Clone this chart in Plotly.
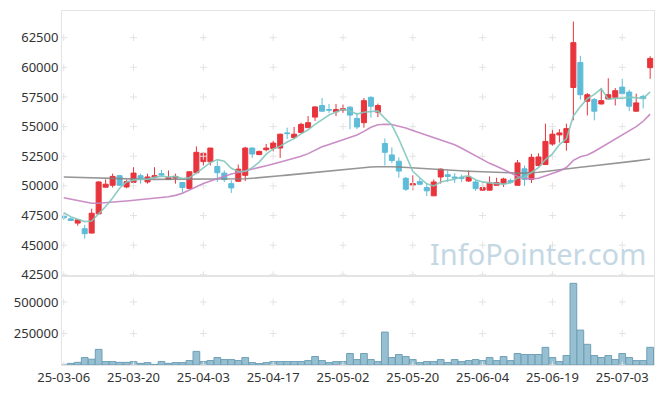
import pandas as pd
import plotly.graph_objects as go

# ---------------- data ----------------
holidays = ["2025-05-01", "2025-05-05", "2025-05-06", "2025-06-03", "2025-06-06"]
trade_days = [d for d in pd.bdate_range("2025-03-06", "2025-07-09")
              if d.strftime("%Y-%m-%d") not in holidays]
dates = [d.strftime("%y-%m-%d") for d in trade_days]

opens = [47470, 47220, 46860, 46390, 46020, 47640, 49890, 50050, 50860, 49910,
         50300, 50860, 50330, 50720, 51030, 50550, 50660, 50280, 49780, 51110,
         52050, 52030, 51640, 51080, 50190, 50390, 50890, 53190, 52640, 53050,
         53160, 53190, 54470, 54080, 54500, 54910, 55800, 56780, 56440, 56250,
         56390, 56640, 55690, 55330, 57470, 56220, 53580, 52610, 52080, 50640,
         50050, 50360, 49860, 49160, 50750, 50940, 50750, 50690, 50410, 50330,
         49640, 49640, 50050, 50190, 50440, 50050, 51440, 50550, 51720, 51800,
         53530, 54300, 53660, 58300, 60410, 57140, 57280, 56910, 57330, 57470,
         58330, 57910, 56300, 57550, 59970]
highs = [47640, 47360, 47150, 46720, 48080, 50410, 50550, 51030, 50910, 50530,
         51580, 51030, 51030, 51580, 51360, 51300, 51030, 50330, 51250, 53330,
         52800, 53200, 52140, 51300, 50470, 51800, 53300, 53250, 52970, 53530,
         53800, 54410, 54910, 54970, 55330, 55890, 56720, 57410, 56910, 56910,
         56860, 56720, 56160, 57410, 57550, 56940, 54000, 53250, 52410, 50750,
         50890, 50690, 50250, 50550, 51470, 51300, 51080, 50940, 51300, 50520,
         50330, 50800, 50690, 50690, 50610, 52190, 51720, 52690, 52750, 55250,
         54830, 54780, 55250, 63860, 60970, 57830, 57410, 58250, 59080, 58250,
         59030, 58110, 57780, 57690, 60940]
lows = [47140, 47030, 46640, 45550, 46000, 47600, 49850, 49860, 50000, 49800,
        50250, 50190, 50190, 50610, 50750, 50530, 50190, 49410, 49750, 51100,
        51720, 51720, 50330, 50330, 49410, 50330, 50410, 52360, 52600, 52910,
        52910, 52360, 53940, 53940, 54440, 54900, 55470, 56250, 56160, 55890,
        56160, 54780, 54780, 54910, 55750, 55800, 51720, 51910, 50690, 49580,
        49640, 50050, 49140, 49150, 50190, 50330, 50250, 50330, 50330, 49580,
        49580, 49620, 50040, 49910, 50250, 50040, 50000, 50250, 51640, 51780,
        53390, 53660, 52970, 55530, 57280, 55940, 55530, 56860, 57280, 56780,
        57690, 56300, 56250, 56530, 59030]
closes = [47300, 47080, 47140, 45970, 47690, 50330, 50140, 50800, 50050, 50360,
          51080, 50530, 50750, 50860, 50910, 50690, 50800, 49860, 51190, 52830,
          52750, 53190, 51110, 50530, 49830, 51410, 53190, 52690, 52910, 53190,
          53610, 54360, 54410, 54360, 55190, 55330, 56660, 56300, 56390, 56440,
          56500, 55970, 54970, 57190, 56720, 56780, 52830, 52140, 51250, 49720,
          50190, 50140, 49580, 50330, 51410, 50800, 50660, 50640, 50750, 49770,
          49860, 50250, 50280, 50580, 50300, 51940, 50550, 52410, 52440, 53750,
          54360, 54470, 54830, 62080, 57690, 57690, 56300, 57190, 57690, 58030,
          57780, 56720, 57000, 57360, 60750]
volumes = [5000, 13000, 21000, 59000, 46000, 124000, 27000, 27000, 21000, 21000,
           27000, 13000, 19000, 5000, 27000, 13000, 19000, 19000, 35000, 108000,
           27000, 35000, 59000, 43000, 43000, 35000, 59000, 19000, 11000, 19000,
           27000, 27000, 27000, 27000, 27000, 35000, 67000, 35000, 19000, 27000,
           27000, 91000, 43000, 91000, 43000, 27000, 261000, 59000, 83000, 67000,
           43000, 19000, 27000, 27000, 43000, 19000, 43000, 27000, 35000, 43000,
           35000, 59000, 35000, 67000, 35000, 91000, 83000, 83000, 83000, 140000,
           59000, 27000, 75000, 648000, 277000, 164000, 75000, 59000, 75000, 43000,
           91000, 59000, 35000, 35000, 140000]
# closes of the four sessions before the window (needed for the 5-day average)
prev_closes = [48700, 48200, 47000, 47450]
# 20- and 60-day averages (history precedes the window)
ma20 = [49000, 48880, 48760, 48640, 48540, 48530, 48560, 48600, 48680, 48730,
        48780, 48830, 48880, 48940, 49000, 49080, 49200, 49380, 49650, 49950,
        50200, 50420, 50620, 50820, 51000, 51130, 51260, 51400, 51550, 51700,
        51850, 52000, 52170, 52330, 52500, 52720, 53000, 53300, 53500, 53700,
        53850, 54050, 54300, 54600, 54950, 55150, 55200, 55180, 55050, 54880,
        54680, 54480, 54300, 54120, 53930, 53720, 53470, 53180, 52850, 52500,
        52200, 51900, 51650, 51380, 51100, 50820, 50620, 50580, 50650, 50850,
        51050, 51250, 51550, 52150, 52450, 52600, 52900, 53250, 53550, 53900,
        54300, 54600, 55000, 55450, 56050]
ma60 = [50750, 50730, 50710, 50690, 50665, 50645, 50625, 50605, 50585, 50570,
        50560, 50555, 50550, 50550, 50550, 50550, 50550, 50550, 50550, 50550,
        50550, 50550, 50550, 50550, 50550, 50570, 50600, 50640, 50680, 50730,
        50790, 50850, 50910, 50970, 51030, 51090, 51150, 51210, 51270, 51330,
        51390, 51450, 51500, 51550, 51590, 51620, 51636, 51620, 51590, 51550,
        51510, 51470, 51440, 51410, 51380, 51350, 51320, 51280, 51240, 51210,
        51180, 51160, 51140, 51120, 51100, 51080, 51080, 51100, 51150, 51220,
        51300, 51370, 51440, 51500, 51570, 51630, 51690, 51750, 51810, 51880,
        51950, 52030, 52110, 52190, 52270]

price_ticks = [42500, 45000, 47500, 50000, 52500, 55000, 57500, 60000, 62500]
volume_ticks = [250000, 500000]
date_ticks = dates[::10]

ma5 = pd.Series(prev_closes + closes).rolling(5).mean().tolist()[len(prev_closes):]

# ---------------- styling ----------------
RED = "#e8343c"
BLUE = "#5dbcd8"
GRID = "#e3e3e3"
FRAME = "#e4e4e4"
FONT = "Noto Sans"

fig = go.Figure()

# grid marks drawn as small crosses at tick intersections
cross = dict(symbol="cross-thin", size=5, line=dict(color=GRID, width=1))
gx_main = [x for x in date_ticks for _ in price_ticks]
gy_main = [y for _ in date_ticks for y in price_ticks]
fig.add_trace(go.Scatter(x=gx_main, y=gy_main, mode="markers", xaxis="x", yaxis="y",
                         marker=cross, hoverinfo="skip", showlegend=False))
vol_grid = [0] + volume_ticks
fig.add_trace(go.Scatter(x=[x for x in date_ticks for _ in vol_grid],
                         y=[y for _ in date_ticks for y in vol_grid],
                         mode="markers", xaxis="x2", yaxis="y2",
                         marker=cross, hoverinfo="skip", showlegend=False))

fig.add_trace(go.Candlestick(
    x=dates, open=opens, high=highs, low=lows, close=closes,
    increasing=dict(line=dict(color=RED, width=1), fillcolor=RED),
    decreasing=dict(line=dict(color=BLUE, width=1), fillcolor=BLUE),
    whiskerwidth=0, xaxis="x", yaxis="y", showlegend=False, hoverinfo="skip"))

fig.add_trace(go.Scatter(x=dates, y=ma60, mode="lines", xaxis="x", yaxis="y",
                         line=dict(color="rgba(130,130,130,0.85)", width=1.6),
                         showlegend=False, hoverinfo="skip"))
fig.add_trace(go.Scatter(x=dates, y=ma20, mode="lines", xaxis="x", yaxis="y",
                         line=dict(color="rgba(196,130,192,0.9)", width=1.6),
                         showlegend=False, hoverinfo="skip"))
fig.add_trace(go.Scatter(x=dates, y=ma5, mode="lines", xaxis="x", yaxis="y",
                         line=dict(color="rgba(130,200,190,0.9)", width=1.6),
                         showlegend=False, hoverinfo="skip"))

fig.add_trace(go.Bar(x=dates, y=volumes, xaxis="x2", yaxis="y2",
                     marker=dict(color="#96c0d2", line=dict(color="#6f9fb6", width=1)),
                     showlegend=False, hoverinfo="skip"))

split = 90 / 357
axis_common = dict(showline=True, linecolor=FRAME, linewidth=1, mirror=True,
                   showgrid=False, zeroline=False, ticks="",
                   tickfont=dict(family=FONT, size=13, color="#333333"))

fig.update_layout(
    width=665, height=396,
    margin=dict(l=62, r=10, t=10, b=29),
    paper_bgcolor="white", plot_bgcolor="white",
    font=dict(family=FONT, size=13, color="#333333"),
    showlegend=False,
    boxgap=0.28, boxgroupgap=0,
    bargap=0.04,
    xaxis=dict(type="category", categoryorder="array", categoryarray=dates,
               range=[-0.25, 84.55], anchor="y",
               showticklabels=False, rangeslider=dict(visible=False), **axis_common),
    yaxis=dict(domain=[split, 1], range=[42420, 64750], anchor="x",
               tickvals=price_ticks, ticktext=[str(v) for v in price_ticks],
               **axis_common),
    xaxis2=dict(type="category", categoryorder="array", categoryarray=dates,
                matches="x", anchor="y2", tickangle=0,
                tickvals=date_ticks, ticktext=date_ticks, **axis_common),
    yaxis2=dict(domain=[0, split], range=[0, 708000], anchor="x2",
                tickvals=volume_ticks, ticktext=[str(v) for v in volume_ticks],
                **axis_common),
    annotations=[dict(text="InfoPointer.com", xref="paper", yref="paper",
                      x=0.99, y=0.315, xanchor="right", yanchor="middle",
                      showarrow=False,
                      font=dict(family=FONT, size=29, color="#c4d8e4"))],
)

fig.write_html("out.html")
